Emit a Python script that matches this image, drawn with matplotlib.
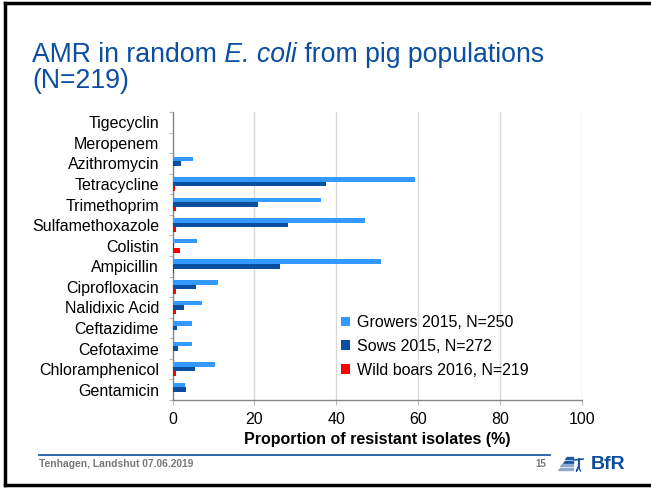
import matplotlib
matplotlib.use("Agg")
import matplotlib.pyplot as plt
import numpy as np
from matplotlib.patches import Polygon
from matplotlib.lines import Line2D

categories = ["Tigecyclin", "Meropenem", "Azithromycin", "Tetracycline", "Trimethoprim",
              "Sulfamethoxazole", "Colistin", "Ampicillin", "Ciprofloxacin", "Nalidixic Acid",
              "Ceftazidime", "Cefotaxime", "Chloramphenicol", "Gentamicin"]
growers = [0, 0, 5.1, 59.2, 36.2, 46.9, 5.9, 50.9, 11.1, 7.1, 4.7, 4.7, 10.3, 3.1]
sows = [0, 0, 2.1, 37.6, 20.8, 28.1, 0.4, 26.3, 5.8, 2.8, 1.0, 1.4, 5.4, 3.2]
wild = [0, 0, 0, 0.5, 0.8, 0.8, 1.8, 0.4, 0.8, 0.8, 0, 0, 0.8, 0]
series_labels = ["Growers 2015, N=250", "Sows 2015, N=272", "Wild boars 2016, N=219"]
xticks = [0, 20, 40, 60, 80, 100]

plt.rcParams['font.family'] = ['Liberation Sans', 'DejaVu Sans']

W, H = 651, 488
fig = plt.figure(figsize=(W / 100, H / 100), dpi=100)

def fx(px):
    return px / W

def fy(py):
    return 1 - py / H

ax_l, ax_r, ax_t, ax_b = 172.5, 582, 112, 400
ax = fig.add_axes([fx(ax_l), fy(ax_b), fx(ax_r - ax_l), (ax_b - ax_t) / H])

c_grow, c_sow, c_wild = "#3399ff", "#0a4f9f", "#ff0000"
y = np.arange(len(categories))
h = 0.22
ax.barh(y - h, growers, height=h, color=c_grow, label=series_labels[0], zorder=3)
ax.barh(y, sows, height=h, color=c_sow, label=series_labels[1], zorder=3)
ax.barh(y + h, wild, height=h, color=c_wild, label=series_labels[2], zorder=3)

ax.set_ylim(len(categories) - 0.5, -0.5)
ax.set_xlim(0, 100)
ax.set_yticks(y)
ax.set_yticklabels(categories, fontsize=11.5)
ax.set_yticks(np.arange(-0.5, len(categories) + 0.5, 1), minor=True)
ax.tick_params(axis='y', which='major', length=0, pad=9.7)
ax.tick_params(axis='y', which='minor', length=3, color="#bbbbbb", width=0.8)
ax.set_xticks(xticks)
ax.set_xticklabels([str(v) for v in xticks], fontsize=11.5)
ax.tick_params(axis='x', length=3.5, color="#bbbbbb", width=0.8, pad=5.5)
ax.grid(axis='x', color="#d9d9d9", linewidth=1, zorder=0)
for s in ["top", "right"]:
    ax.spines[s].set_visible(False)
for s in ["left", "bottom"]:
    ax.spines[s].set_color("#888888")
    ax.spines[s].set_linewidth(1)
ax.set_xlabel("Proportion of resistant isolates (%)", fontsize=11.5, fontweight='bold', labelpad=3)

leg = ax.legend(loc='upper left', bbox_to_anchor=(fx(341), fy(315)), bbox_transform=fig.transFigure,
                frameon=False, fontsize=11.5, handlelength=0.55, handleheight=0.55,
                handletextpad=0.45, labelspacing=0.55, borderpad=0, borderaxespad=0)

# Title
title_color = "#0b4ea2"
tfs = 19.2
base1, base2 = 62, 88
t1 = fig.text(fx(32), fy(base1), "AMR in random", fontsize=tfs, color=title_color, va='baseline', ha='left')
fig.canvas.draw()
r = fig.canvas.get_renderer()
bb1 = t1.get_window_extent(r)
t2 = fig.text(bb1.x1 / W, fy(base1), " E. coli", fontsize=tfs, color=title_color, style='italic',
              va='baseline', ha='left')
fig.canvas.draw()
bb2 = t2.get_window_extent(r)
fig.text(bb2.x1 / W, fy(base1), " from pig populations", fontsize=tfs, color=title_color,
         va='baseline', ha='left')
fig.text(fx(32), fy(base2), "(N=219)", fontsize=tfs, color=title_color, va='baseline', ha='left')

# Footer
fig.add_artist(Line2D([fx(39), fx(550)], [fy(455), fy(455)], color="#1f5aa6", linewidth=1.3))
fig.text(fx(39), fy(464), "Tenhagen, Landshut 07.06.2019", fontsize=7.4, fontweight='bold',
         color="#777777", va='center', ha='left')
fig.text(fx(541), fy(464), "15", fontsize=7, fontweight='bold', color="#777777", va='center', ha='center')
fig.text(fx(591), fy(464.5), "BfR", fontsize=14, fontweight='bold', color="#0d4b9b", va='center', ha='left')
# logo stripes
logo_blue = "#1a55a6"
for i, (y0, y1) in enumerate([(457, 459), (460.5, 462.5), (464, 466), (467.5, 469.5)]):
    x0 = 557 + i * 0.5
    fig.add_artist(Polygon([(fx(x0 + 10 - i * 3), fy(y0)), (fx(573), fy(y0)), (fx(573), fy(y1)),
                            (fx(x0 + 8 - i * 3), fy(y1))], closed=True, color=logo_blue if i < 2 else "#8ea8cf"))
fig.add_artist(Line2D([fx(574), fx(583)], [fy(460), fy(459)], color="#1a55a6", linewidth=1.2))
fig.add_artist(Line2D([fx(578.5), fx(578.5)], [fy(459), fy(467)], color="#1a55a6", linewidth=1.5))
fig.add_artist(Line2D([fx(578.5), fx(576.5), fx(578.5), fx(580.5)], [fy(467), fy(471), fy(467), fy(471)],
                      color="#1a55a6", linewidth=1.0))

# Slide frame
fig.add_artist(Line2D([fx(5), fx(5)], [fy(3), fy(485)], color="black", linewidth=2.5))
fig.add_artist(Line2D([fx(5), fx(651)], [fy(3), fy(3)], color="black", linewidth=2.5))
fig.add_artist(Line2D([fx(5), fx(651)], [fy(485), fy(485)], color="black", linewidth=2.5))

fig.savefig("out.png", dpi=100)
